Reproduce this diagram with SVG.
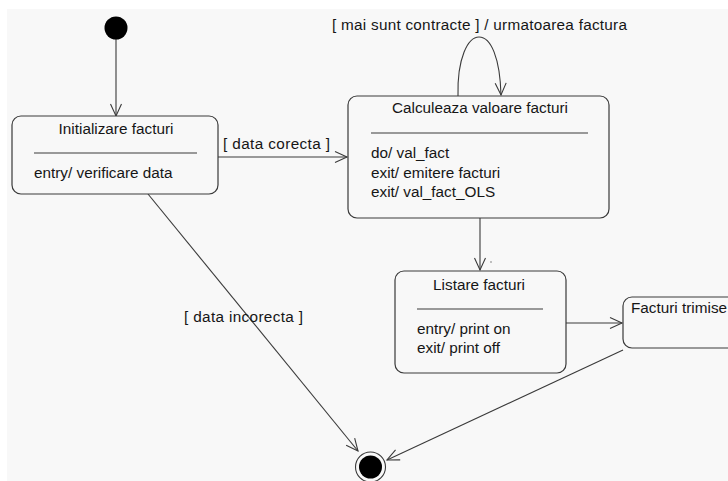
<svg xmlns="http://www.w3.org/2000/svg" width="728" height="481" viewBox="0 0 728 481">
  <defs>
    <style>
      .state { fill: #f8f8f8; stroke: #3a3a3a; stroke-width: 1.2; }
      .sep { stroke: #3a3a3a; stroke-width: 1.2; }
      .edge { fill: none; stroke: #3a3a3a; stroke-width: 1.1; }
      text { font-family: "Liberation Sans", Arial, sans-serif; font-size: 15.3px; fill: #161616; }
      .mid { text-anchor: middle; }
    </style>
    <marker id="open" markerUnits="userSpaceOnUse" markerWidth="14" markerHeight="12" refX="12" refY="5.5" orient="auto" overflow="visible">
      <path d="M0,0 L12,5.5 L0,11" fill="none" stroke="#3a3a3a" stroke-width="1.1"/>
    </marker>
  </defs>

  <!-- canvas -->
  <rect x="0" y="0" width="728" height="481" fill="#ffffff"/>
  <rect x="7" y="9" width="721" height="472" fill="#f8f8f8"/>

  <!-- transitions -->
  <g id="connectors">
    <line class="edge" x1="116" y1="39" x2="116" y2="116" marker-end="url(#open)"/>
    <line class="edge" x1="218" y1="157" x2="347" y2="157" marker-end="url(#open)"/>
    <text x="223" y="149" textLength="107" lengthAdjust="spacing">[ data corecta ]</text>
    <path class="edge" d="M458,96 C457,58 468,37 479,37 C491,37 500,58 501,95" marker-end="url(#open)"/>
    <text x="332" y="30" textLength="295" lengthAdjust="spacing">[ mai sunt contracte ] / urmatoarea factura</text>
    <line class="edge" x1="480" y1="218" x2="480" y2="270" marker-end="url(#open)"/>
    <circle cx="491" cy="262" r="0.8" fill="#777"/>
    <line class="edge" x1="566" y1="323" x2="622" y2="323" marker-end="url(#open)"/>
    <line class="edge" x1="148" y1="194" x2="358" y2="451" marker-end="url(#open)"/>
    <text x="184" y="322" textLength="119" lengthAdjust="spacing">[ data incorecta ]</text>
    <line class="edge" x1="623" y1="350" x2="387" y2="460" marker-end="url(#open)"/>
  </g>

  <!-- initial pseudo-state -->
  <g id="initial">
    <circle cx="116" cy="28" r="11.5" fill="#000"/>
  </g>

  <g id="initializare">
    <rect class="state" x="12" y="116" width="206" height="78" rx="9" ry="9"/>
    <text class="mid" x="116" y="134">Initializare facturi</text>
    <line class="sep" x1="34" y1="153" x2="197" y2="153"/>
    <text x="34" y="178">entry/ verificare data</text>
  </g>

  <g id="calculeaza">
    <rect class="state" x="348" y="96" width="261" height="122" rx="9" ry="9"/>
    <text class="mid" x="480" y="113">Calculeaza valoare facturi</text>
    <line class="sep" x1="371" y1="133" x2="588" y2="133"/>
    <text x="371" y="158">do/ val_fact</text>
    <text x="371" y="178">exit/ emitere facturi</text>
    <text x="371" y="197">exit/ val_fact_OLS</text>
  </g>

  <g id="listare">
    <rect class="state" x="395" y="271" width="171" height="102" rx="9" ry="9"/>
    <text class="mid" x="479" y="290">Listare facturi</text>
    <line class="sep" x1="417" y1="309" x2="543" y2="309"/>
    <text x="417" y="334">entry/ print on</text>
    <text x="417" y="353">exit/ print off</text>
  </g>

  <g id="trimise">
    <rect class="state" x="623" y="297" width="140" height="51" rx="9" ry="9"/>
    <text x="631" y="313">Facturi trimise</text>
  </g>

  <!-- final pseudo-state -->
  <g id="final">
    <circle cx="370.5" cy="467" r="15" fill="#f8f8f8" stroke="#3a3a3a" stroke-width="1.1"/>
    <circle cx="370.5" cy="467" r="11.5" fill="#000"/>
  </g>
</svg>
